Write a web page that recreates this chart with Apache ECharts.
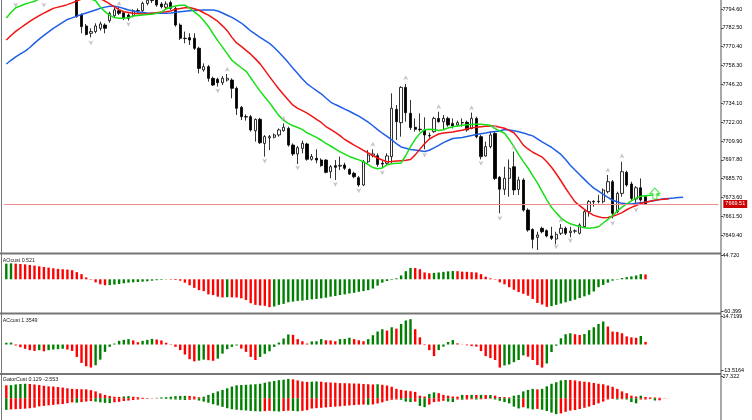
<!DOCTYPE html>
<html><head><meta charset="utf-8">
<script src="https://cdn.jsdelivr.net/npm/echarts@6/dist/echarts.min.js"></script>
<style>html,body{margin:0;padding:0;background:#fff}#c{width:752px;height:420px}</style>
</head><body><div id="c"></div>
<script>
// ---------- DATA ----------
// candles: [open, close, low, high]
const candles = [
[7806,7809,7803,7811],[7809,7805,7802.5,7810],[7805,7808,7800.9,7810],[7808,7812,7806,7814],[7812,7810,7807,7815],
[7810,7806,7803.5,7812],[7806,7803.5,7802,7808],[7803.5,7805,7801.8,7807],[7805,7808,7800.9,7809],[7808,7812,7806,7814],
[7812,7814,7809,7816],[7814,7812,7809,7817],[7812,7810,7807,7815],[7810,7807,7805,7812],[7807,7804,7802,7809],
[7803,7789.7,7789.0,7805],[7790.7,7783.3,7779.0,7791.8],[7783.7,7778.3,7777.7,7785.0],[7779.0,7780.1,7776.4,7782.2],[7780.1,7783.7,7779.0,7785.4],
[7782.2,7785.0,7780.7,7786.5],[7784.3,7782.2,7779.0,7785.4],[7787.1,7791.8,7785.8,7792.9],[7790.3,7794.0,7789.2,7795.7],[7793.5,7791.8,7790.7,7796.1],
[7792.2,7788.6,7787.5,7793.3],[7790.7,7788.6,7787.1,7791.8],[7790.3,7793.5,7789.3,7794.4],[7793.5,7793.3,7792.2,7795.0],[7793.5,7798.2,7792.7,7799.3],
[7798.2,7800.2,7797.0,7802.0],[7800.0,7800.4,7798.5,7803.0],[7800.5,7797.2,7796.0,7803.0],[7797.8,7796.1,7795.0,7799.0],[7795.7,7797.8,7794.5,7799.5],
[7798.7,7795.0,7794.0,7800.0],[7795.0,7784.3,7783.3,7796.1],[7784.3,7775.8,7774.7,7785.4],[7775.8,7775.6,7772.6,7780.1],[7776.2,7774.7,7771.5,7779.0],
[7775.8,7769.4,7768.3,7779.0],[7769.4,7756.5,7753.3,7770.4],[7755.5,7757.6,7754.4,7759.7],[7757.6,7750.1,7748.0,7758.7],[7750.1,7745.8,7745.2,7751.2],
[7749.5,7747.3,7744.8,7750.5],[7747.3,7750.1,7745.8,7751.6],[7749.0,7750.1,7748.0,7752.9],[7749.0,7743.7,7737.3,7750.1],[7743.7,7730.9,7726.6,7744.8],
[7731.5,7725.5,7723.4,7732.4],[7725.5,7725.3,7723.0,7727.0],[7725.5,7717.0,7715.9,7726.6],[7716.5,7723.8,7709.5,7724.4],[7723.8,7708.8,7708.0,7724.8],
[7708.4,7712.7,7699.9,7713.7],[7711.9,7712.7,7704.1,7713.8],[7712.3,7713.8,7711.6,7714.8],[7713.8,7717.0,7712.7,7718.0],[7716.5,7718.7,7715.9,7721.2],
[7718.0,7707.3,7706.3,7719.1],[7707.3,7701.6,7700.3,7708.4],[7701.6,7705.6,7695.1,7706.7],[7705.2,7708.4,7702.0,7710.1],[7708.0,7698.2,7697.3,7708.8],
[7698.2,7699.9,7697.3,7701.6],[7698.8,7697.7,7695.6,7704.6],[7697.7,7694.1,7693.4,7698.8],[7697.7,7689.8,7689.2,7698.2],[7690.2,7693.4,7686.0,7694.5],
[7694.1,7693.0,7684.9,7697.7],[7693.8,7694.3,7691.3,7699.9],[7694.5,7692.4,7691.3,7696.0],[7691.7,7688.7,7688.1,7692.4],[7689.2,7687.0,7686.0,7690.2],
[7686.4,7681.7,7680.6,7687.5],[7681.7,7696.6,7681.0,7697.7],[7696.6,7700.9,7695.6,7704.1],[7700.5,7701.6,7699.4,7704.6],[7700.5,7694.9,7693.4,7702.0],
[7695.6,7695.1,7692.8,7697.7],[7695.6,7700.3,7694.5,7702.0],[7699.9,7730.9,7695.6,7740.5],[7730.2,7722.3,7710.5,7733.0],[7721.7,7744.3,7712.7,7745.0],
[7744.3,7728.1,7722.3,7746.5],[7727.7,7718.5,7717.0,7736.2],[7718.7,7717.4,7715.9,7724.4],[7717.5,7717.2,7715.9,7727.7],[7717.0,7713.8,7704.6,7725.1],
[7713.5,7713.2,7712.0,7715.3],[7715.9,7724.4,7715.2,7725.5],[7724.4,7722.3,7721.7,7728.7],[7722.3,7724.4,7717.0,7726.6],[7724.4,7720.2,7719.1,7725.5],
[7721.2,7719.5,7718.0,7724.4],[7720.2,7721.7,7719.1,7723.0],[7721.5,7721.8,7719.1,7724.4],[7721.9,7717.0,7715.9,7723.0],[7718.0,7724.4,7717.4,7728.1],
[7724.4,7712.7,7711.6,7725.5],[7712.7,7699.9,7698.1,7713.8],[7700.3,7706.3,7699.9,7709.5],[7706.3,7713.8,7705.2,7715.9],[7714.8,7685.9,7684.9,7716.3],
[7686.6,7679.0,7663.5,7687.5],[7678.9,7686.0,7675.3,7693.4],[7686.0,7692.4,7674.2,7698.1],[7693.4,7678.5,7675.3,7703.1],[7678.9,7684.9,7675.3,7687.0],
[7684.9,7665.6,7664.6,7686.0],[7665.6,7652.8,7651.7,7666.7],[7653.2,7646.8,7641.0,7653.9],[7648.1,7649.6,7640.0,7651.7],[7653.9,7651.7,7650.7,7654.9],
[7652.4,7649.0,7648.1,7653.2],[7649.0,7647.5,7646.4,7654.9],[7647.0,7650.0,7643.6,7651.7],[7650.7,7653.9,7649.6,7656.6],[7653.9,7650.7,7649.6,7654.9],
[7651.2,7652.1,7648.1,7654.9],[7652.1,7652.3,7650.7,7653.2],[7650.7,7656.0,7650.0,7657.1],[7655.0,7664.6,7654.3,7665.6],[7664.6,7671.0,7661.4,7672.0],
[7670.8,7671.2,7667.8,7672.0],[7671.0,7671.2,7669.9,7675.3],[7671.0,7678.5,7669.9,7679.5],[7677.4,7683.8,7676.3,7688.1],[7683.8,7663.5,7660.3,7684.9],
[7664.6,7676.3,7663.5,7677.4],[7676.3,7690.2,7674.2,7696.6],[7689.8,7681.7,7680.6,7690.9],[7682.3,7673.1,7672.1,7683.8],[7672.7,7679.9,7669.5,7681.0],
[7679.9,7672.1,7671.0,7685.9],[7674.2,7669.5,7668.8,7675.3]
];
const lipsGreen = [7788.8,7792.3,7795.4,7796.5,7797.8,7798.7,7799.6,
7801,7803,7805,7806,7807,7808,7808,7807,7806,7804,7802,7801,
7799.9,7795.9,7792.9,7790.6,7789.1,7788.7,7788.6,7789.0,7790.1,7790.4,
7790.7,7791.0,7791.3,7791.8,7792.6,7794.6,7795.7,7796.5,7797.0,7797.0,
7795.1,7792.8,7790.4,7787.2,7783.4,7778.7,7774.3,7770.1,7766.0,7761.7,
7759.2,7756.9,7754.7,7750.5,7746.1,7741.9,7738.1,7734.5,7730.3,7726.2,
7723.2,7721.2,7719.7,7718.6,7717.2,7715.2,7713.7,7712.2,7710.4,7708.4,
7706.7,7704.9,7703.0,7701.5,7700.0,7698.8,7697.8,7696.6,7694.8,7692.9,
7692.1,7692.6,7694.6,7695.3,7695.6,7695.8,7700.6,7706.3,7711.0,7714.8,
7717.2,7717.4,7717.3,7716.7,7717.1,7718.3,7719.0,7719.5,7720.0,7720.4,
7720.5,7720.6,7720.6,7720.4,7720.0,7717.9,7716.3,7714.9,7710.9,7706.3,
7701.3,7696.7,7692.6,7687.7,7683.0,7677.6,7672.2,7667.4,7663.8,7660.6,
7658.4,7656.8,7655.9,7655.0,7654.3,7654.0,7654.2,7654.9,7657.3,7659.6,
7662.1,7664.9,7667.5,7669.5,7671.5,7673.3,7674.4,7674.8,7675.1,7675.3,
7675.3];
const teethRed = [7774.7,7777.6,7780.2,7782.4,7784.6,7786.6,7788.6,7790.4,7792.0,7793.5,
7795.0,7795.8,7796.5,7797.4,7798.5,7799.7,7801.0,7802.0,7802.5,7802.0,
7801.2,7799.7,7797.9,7796.0,7794.2,7792.8,7792.4,7791.8,7791.6,7791.4,
7791.6,7791.8,7792.2,7792.7,7792.9,7793.3,7794.5,7794.9,7795.4,7795.5,
7794.7,7793.8,7792.2,7790.7,7788.7,7786.6,7783.8,7780.7,7776.4,7772.8,
7770.6,7768.1,7765.6,7762.6,7759.4,7755.4,7751.2,7747.2,7743.3,7739.7,
7736.2,7732.9,7730.8,7729.4,7727.8,7725.8,7723.8,7721.8,7719.2,7717.3,
7715.4,7713.4,7710.9,7709.1,7707.3,7705.7,7703.9,7702.2,7700.6,7699.0,
7697.7,7696.6,7696.8,7697.1,7697.3,7697.5,7698.0,7701.0,7704.7,7708.2,
7711.2,7712.9,7714.4,7715.0,7715.4,7715.7,7716.3,7716.8,7717.6,7718.2,
7718.7,7719.1,7719.3,7719.5,7719.5,7718.8,7718.1,7716.7,7715.2,7711.6,
7707.3,7704.8,7702.7,7701.2,7699.6,7696.6,7693.1,7688.9,7684.4,7679.6,
7675.2,7670.9,7668.5,7666.0,7664.0,7662.2,7661.3,7660.6,7660.8,7661.6,
7662.7,7664.0,7665.8,7667.3,7668.5,7669.8,7670.6,7671.3,7671.9,7672.3,
7672.6,7672.9];
const jawBlue = [7759.3,7761.7,7763.9,7765.8,7767.6,7769.9,7772.7,7775.3,7777.7,7779.9,
7782.2,7784.1,7786.0,7787.9,7788.9,7790.0,7791.1,7792.0,7793.0,7794.0,
7795.0,7795.8,7796.3,7796.3,7795.8,7794.9,7794.0,7793.3,7792.7,7792.4,
7792.1,7791.9,7791.8,7791.8,7791.8,7792.0,7792.5,7792.9,7793.2,7793.4,
7793.6,7793.8,7794.0,7794.0,7794.0,7793.3,7792.0,7790.6,7789.2,7787.4,
7785.6,7783.1,7780.5,7778.5,7776.4,7774.4,7772.5,7769.9,7766.9,7763.7,
7760.2,7756.6,7753.2,7749.7,7746.6,7744.4,7742.3,7740.2,7737.5,7734.9,
7733.3,7731.9,7730.4,7729.0,7727.4,7725.9,7724.0,7722.0,7719.7,7717.2,
7714.9,7712.9,7710.7,7708.2,7706.1,7705.3,7704.5,7704.1,7703.7,7703.2,
7704.0,7705.5,7707.1,7708.9,7710.2,7711.5,7711.9,7712.2,7712.8,7713.5,
7714.1,7714.6,7715.1,7715.7,7716.0,7716.3,7717.3,7717.0,7716.5,7715.8,
7715.1,7714.1,7713.2,7711.3,7709.3,7707.6,7705.9,7703.6,7701.3,7698.0,
7694.4,7691.3,7688.3,7685.3,7682.3,7679.7,7677.7,7675.7,7673.7,7671.9,
7670.9,7669.9,7669.7,7669.5,7669.9,7670.3,7670.7,7671.2,7671.8,7672.4,
7672.8,7673.1,7673.3,7673.6,7673.8];
const fractalUp = [[24,7798.2],[47,7755.9],[59,7724.4],[78,7707.8],[85,7750.5],[92,7731.9],[99,7731.3],[104,7719.1],[108,7706.3],[118,7659.2],[128,7691.3],[131,7700.3]];
const fractalDown = [[2,7797.2],[8,7797.2],[18,7773.0],[26,7784.8],[45,7742.2],[55,7697.1],[62,7692.8],[70,7682.1],[75,7678.0],[80,7689.6],[89,7700.9],[101,7695.6],[105,7660.3],[117,7642.1],[120,7646.0],[129,7657.1],[134,7665.6]];
const signalUp = [[138,7676.2]];
const lastPrice = 7669.51;
const priceTicks = [7649.40,7661.50,7673.60,7685.70,7697.80,7709.90,7722.00,7734.10,7746.20,7758.30,7770.40,7782.50,7794.60];
const aoValues = [29.4,30.0,29.4,28.7,28.1,26.9,25.7,24.4,23.2,22.0,
20.7,19.5,18.9,18.3,17.1,13.4,9.7,3.5,-0.8,-5.7,
-9.4,-11.2,-10.9,-10.0,-8.8,-7.5,-6.3,-5.7,-5.1,-4.5,
-3.8,-2.6,-1.7,-1.1,-0.5,-0.8,-1.4,-2.6,-6.3,-11.2,
-16.1,-20.4,-22.3,-28.4,-29.7,-32.7,-34.2,-33.6,-34.0,-34.3,
-35.8,-38.9,-45.0,-48.1,-49.3,-49.9,-52.4,-51.2,-48.1,-46.3,
-43.2,-42.0,-40.7,-40.1,-38.9,-37.7,-37.0,-35.8,-34.6,-32.7,
-31.5,-29.7,-28.4,-26.6,-25.4,-23.5,-22.3,-20.4,-17.4,-12.0,
-6.3,-3.2,-1.1,1.7,7.2,15.2,21.4,21.1,18.9,12.8,
11.5,12.1,12.8,14.0,14.9,15.5,15.2,14.3,14.0,13.4,
12.8,9.7,4.8,1.7,-0.8,-5.7,-9.4,-14.9,-19.8,-24.1,
-27.2,-30.9,-37.0,-44.4,-47.5,-51.8,-50.6,-48.1,-45.6,-43.2,
-40.7,-38.3,-35.2,-32.1,-29.0,-22.9,-14.9,-10.6,-6.3,-2.6,
-0.8,2.3,4.1,5.4,7.2,9.7,9.1];
const acValues = [0.9,1.0,-0.5,-1.4,-2.2,-2.9,-3.3,-2.9,-3.5,-2.9,
-2.6,-2.4,-2.2,-2.6,-3.3,-6.4,-9.5,-11.2,-11.9,-10.7,
-7.8,-3.8,-1.2,0.5,1.9,2.4,2.8,2.1,1.2,1.9,
2.4,2.9,2.6,2.1,0.9,-0.2,-1.2,-2.9,-5.2,-7.6,
-8.7,-8.3,-7.8,-8.1,-8.4,-7.3,-4.7,-2.4,-1.2,-0.5,
-2.1,-3.8,-6.4,-8.0,-6.4,-4.8,-3.5,-1.2,1.0,3.1,
5.2,5.0,2.8,1.7,0.5,1.6,1.7,2.8,2.2,2.1,
1.7,2.8,2.9,3.5,2.8,2.2,1.7,2.8,4.8,6.7,
7.9,7.2,8.9,8.2,10.6,12.4,13.1,7.9,3.7,-0.3,
-2.9,-6.0,-2.9,-1.1,1.3,2.3,0.6,-0.1,-0.4,-0.8,
-1.1,-3.4,-6.0,-7.0,-8.0,-11.9,-10.8,-10.3,-9.1,-8.0,
-5.6,-6.3,-8.0,-10.6,-11.9,-9.8,-3.9,-0.6,3.2,5.3,
5.8,5.3,4.9,5.4,7.4,8.9,10.6,11.9,9.3,6.7,
6.5,5.8,4.2,3.7,3.5,4.4,1.35];
const gatorUpper = [16.3,16.5,17.3,17.9,18.2,17.9,17.3,16.6,15.7,15.0,
14.7,14.1,13.4,12.5,11.8,11.5,11.3,11.2,10.2,8.6,
6.1,4.2,2.9,1.9,1.6,2.2,2.6,1.9,1.3,0.6,
0.3,0.16,0.5,1.0,1.3,1.9,2.6,2.9,3.0,2.9,
2.2,1.3,1.9,4.2,6.4,8.6,10.5,12.5,14.7,16.3,
16.6,16.9,17.3,17.6,18.2,19.5,20.8,21.7,22.7,23.3,
24.3,23.7,22.4,21.1,20.5,20.8,21.1,20.8,20.1,19.8,
19.5,19.0,18.9,18.7,18.5,18.4,17.9,17.6,17.3,17.6,
16.9,16.0,14.4,11.8,10.5,9.6,8.9,8.0,3.2,2.2,
5.4,7.4,6.4,4.2,3.2,2.2,2.0,4.2,4.1,4.2,
4.1,4.2,4.0,4.1,3.2,1.6,1.5,1.0,3.2,4.2,
8.6,10.5,11.8,11.2,11.8,15.0,18.2,20.1,22.4,23.0,
22.9,22.4,21.4,20.8,20.1,19.2,18.2,17.6,16.0,14.4,
11.8,8.6,6.4,3.2,2.2,3.2,1.6,1.0,1.0,0.6,
0.4,0.129];
const gatorLower = [-14.6,-14.0,-13.7,-13.4,-13.1,-12.5,-11.8,-10.2,-9.6,-8.9,
-8.3,-7.7,-7.3,-6.2,-5.1,-5.6,-4.8,-4.1,-3.5,-4.2,
-5.1,-5.8,-6.1,-5.1,-4.5,-3.5,-2.9,-2.2,-1.6,-1.0,
-0.6,-0.3,-0.2,-0.5,-0.9,-1.3,-1.6,-1.9,-2.2,-2.0,
-1.6,-2.9,-4.2,-5.6,-7.5,-9.0,-10.8,-12.5,-13.8,-14.5,
-15.0,-15.4,-15.9,-16.3,-16.6,-16.2,-15.8,-16.3,-16.7,-16.1,
-15.6,-15.9,-16.4,-15.8,-15.0,-12.9,-12.4,-12.0,-11.5,-11.0,
-10.6,-10.1,-9.5,-9.0,-8.6,-8.1,-7.9,-8.2,-7.8,-6.5,
-5.1,-3.2,-2.0,-1.6,-1.9,-4.2,-4.8,-4.2,-9.6,-11.2,
-8.0,-4.8,-4.2,-3.2,-4.2,-4.8,-1.6,-1.9,-1.6,-1.3,
-1.6,-1.3,-1.0,-0.6,-1.6,-3.2,-4.8,-6.4,-10.5,-12.8,
-11.2,-12.8,-14.0,-13.4,-14.4,-16.0,-18.0,-20.0,-19.0,-17.0,
-15.5,-14.8,-13.5,-12.0,-10.5,-8.5,-6.4,-4.2,-1.6,-1.0,
-1.6,-1.3,-1.6,-4.8,-6.4,-1.6,-1.6,-1.0,-2.8,-2.553];
const aoRange = [-60.399, 44.72];
const acRange = [-13.5164, 14.7199];
const gatorMax = 27.322;
const panelTitles = ['AOcust 0.521', 'ACcust 1.3549', 'GatorCust 0.129 -2.553'];
const SLOTS = 152;

// ---------- CHART ----------
const GREEN = '#008000', RED = '#ff0000';
const FONT = 'Liberation Sans';
function riseColors(vals, first, useAbs) {
  const out = []; let prevC = first;
  vals.forEach((v, i) => {
    let c = first;
    if (i > 0) {
      const a = useAbs ? Math.abs(v) : v, b = useAbs ? Math.abs(vals[i - 1]) : vals[i - 1];
      c = a > b ? GREEN : (a < b ? RED : prevC);
    }
    prevC = c; out.push(c);
  });
  return out;
}
function barData(vals, first, useAbs) {
  const cols = riseColors(vals, first, useAbs);
  return vals.map((v, i) => ({ value: v, itemStyle: { color: cols[i] } }));
}
const cats = Array.from({ length: SLOTS }, (_, i) => i);
const gridBase = { left: 3.95, right: 33.65 };
const grids = [
  Object.assign({ top: 0, height: 252 }, gridBase),
  Object.assign({ top: 255.5, height: 55.9 }, gridBase),
  Object.assign({ top: 316, height: 54.7 }, gridBase),
  Object.assign({ top: 376.5, height: 57 }, gridBase)
];
const xAxes = grids.map((g, k) => ({ type: 'category', gridIndex: k, data: cats, show: false, boundaryGap: true }));
function yAx(k, min, max, ticks, dec) {
  return {
    type: 'value', gridIndex: k, position: 'right', min: min, max: max, offset: 2.6,
    axisLine: { show: false },
    axisTick: { show: true, customValues: ticks, length: 2, lineStyle: { color: '#444', width: 1 } },
    axisLabel: { show: true, customValues: ticks, formatter: v => Number(v).toFixed(dec), fontSize: 5.5, fontFamily: FONT, color: '#000', margin: 1.5 },
    splitLine: { show: false }
  };
}
const yAxes = [
  yAx(0, 7638.7, 7800.37, priceTicks, 2),
  yAx(1, aoRange[0], aoRange[1], aoRange, 3),
  yAx(2, acRange[0], acRange[1], acRange, 4),
  yAx(3, -gatorMax, gatorMax, [gatorMax], 3)
];
function lineSeries(data, color) {
  return { type: 'line', xAxisIndex: 0, yAxisIndex: 0, data: data, showSymbol: false, symbol: 'none', silent: true,
    lineStyle: { color: color, width: 1.5 }, z: 3, clip: true };
}
const series = [
  { type: 'candlestick', xAxisIndex: 0, yAxisIndex: 0, data: candles, barWidth: 2.8, clip: true, silent: true, z: 2,
    itemStyle: { color: '#ffffff', color0: '#000000', borderColor: '#000000', borderColor0: '#000000', borderWidth: 0.8 },
    markLine: { symbol: ['none', 'none'], silent: true, animation: false,
      data: [{ yAxis: lastPrice }],
      lineStyle: { color: '#f08c8c', width: 1, type: 'solid' },
      label: { show: true, position: 'end', formatter: lastPrice.toFixed(2), color: '#fff', backgroundColor: '#cc0000',
        fontSize: 5.5, fontFamily: FONT, padding: [1, 2, 1, 2], distance: 5 } } },
  lineSeries(jawBlue, '#1f5fe6'),
  lineSeries(teethRed, '#f01414'),
  lineSeries(lipsGreen, '#18e018'),
  { type: 'scatter', xAxisIndex: 0, yAxisIndex: 0, data: fractalUp, symbol: 'path://M5,0 L10,10 L5,7 L0,10 Z', symbolSize: [5, 5],
    itemStyle: { color: '#b4b4b4' }, silent: true, z: 4 },
  { type: 'scatter', xAxisIndex: 0, yAxisIndex: 0, data: fractalDown, symbol: 'path://M0,0 L5,3 L10,0 L5,10 Z', symbolSize: [5, 5],
    itemStyle: { color: '#b4b4b4' }, silent: true, z: 4 },
  { type: 'scatter', xAxisIndex: 0, yAxisIndex: 0, data: signalUp, symbol: 'path://M5,0 L10,5 L7,5 L7,10 L3,10 L3,5 L0,5 Z', symbolSize: [10, 11],
    itemStyle: { color: '#ffffff', borderColor: '#22dd22', borderWidth: 1 }, silent: true, z: 5 },
  { type: 'bar', xAxisIndex: 1, yAxisIndex: 1, data: barData(aoValues, GREEN, false), barWidth: 2.4, silent: true },
  { type: 'bar', xAxisIndex: 2, yAxisIndex: 2, data: barData(acValues, GREEN, false), barWidth: 2.4, silent: true },
  { type: 'bar', xAxisIndex: 3, yAxisIndex: 3, data: barData(gatorUpper, RED, false), barWidth: 2.4, barGap: '-100%', silent: true },
  { type: 'bar', xAxisIndex: 3, yAxisIndex: 3, data: barData(gatorLower, GREEN, true), barWidth: 2.4, barGap: '-100%', silent: true }
];
const sepStyle = { fill: '#767676' };
const titleY = [260.5, 320.3, 379.2];
const graphic = [
  { type: 'rect', shape: { x: 0, y: 252.5, width: 721, height: 2 }, style: sepStyle, z: 100 },
  { type: 'rect', shape: { x: 0, y: 312.6, width: 721, height: 2 }, style: sepStyle, z: 100 },
  { type: 'rect', shape: { x: 0, y: 372.9, width: 721, height: 2 }, style: sepStyle, z: 100 },
  { type: 'rect', shape: { x: 1, y: 0, width: 1, height: 420 }, style: sepStyle, z: 100 },
  { type: 'rect', shape: { x: 720.5, y: 0, width: 1, height: 420 }, style: { fill: '#555' }, z: 100 }
].concat(panelTitles.map((t, k) => ({
  type: 'text', x: 2.8, y: titleY[k], z: 100,
  style: { text: t, fontSize: 5.3, fontFamily: FONT, fill: '#222', verticalAlign: 'middle' }
})));
const chart = echarts.init(document.getElementById('c'), null, { renderer: 'canvas' });
chart.setOption({
  animation: false, backgroundColor: '#ffffff',
  grid: grids, xAxis: xAxes, yAxis: yAxes, series: series, graphic: graphic
});
</script>
</body></html>
